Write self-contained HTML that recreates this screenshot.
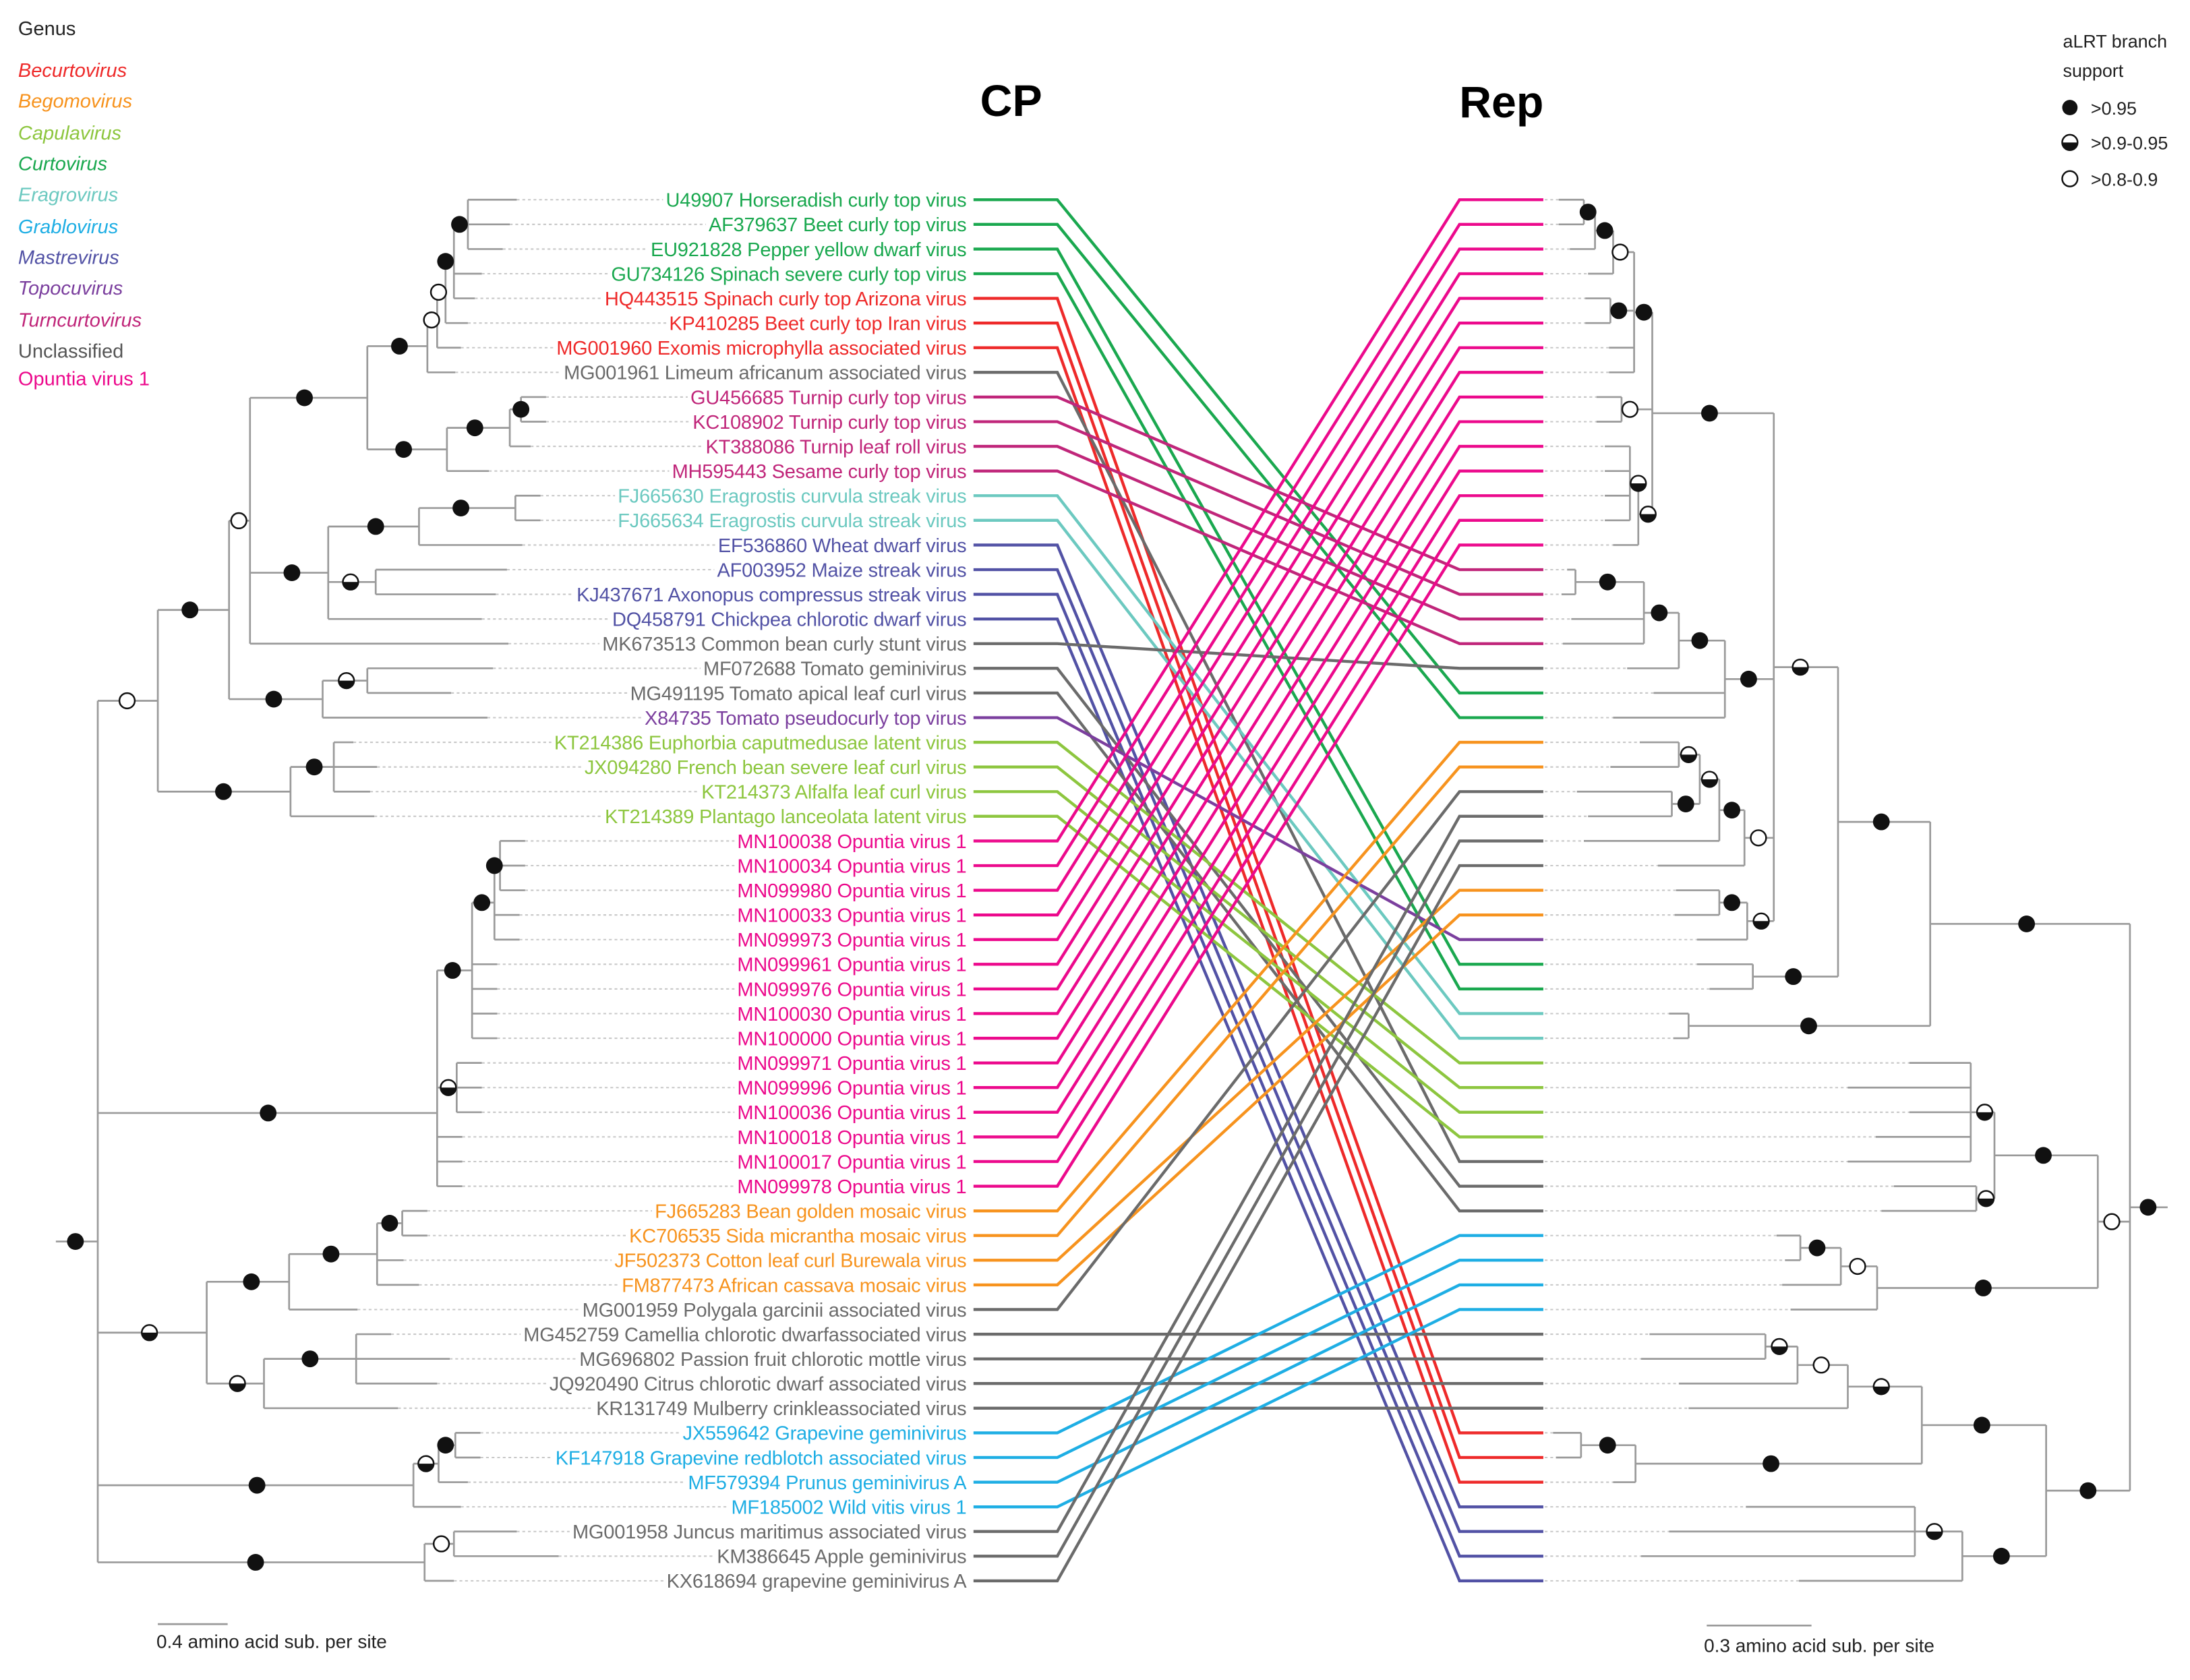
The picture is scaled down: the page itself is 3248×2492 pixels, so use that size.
<!DOCTYPE html>
<html><head><meta charset="utf-8"><style>
html,body{margin:0;padding:0;background:#fff}
svg{display:block}
text{font-family:"Liberation Sans",sans-serif}
</style></head><body>
<svg id="chart" width="3248" height="2492" viewBox="0 0 1568 1203" xmlns="http://www.w3.org/2000/svg">
<g font-size="14">
<text x="13" y="25" fill="#222">Genus</text>
<text x="13" y="55" fill="#ee2a2a" font-style="italic">Becurtovirus</text>
<text x="13" y="77" fill="#f7931e" font-style="italic">Begomovirus</text>
<text x="13" y="100" fill="#8dc63f" font-style="italic">Capulavirus</text>
<text x="13" y="122" fill="#1aa84f" font-style="italic">Curtovirus</text>
<text x="13" y="144" fill="#6cc9c0" font-style="italic">Eragrovirus</text>
<text x="13" y="167" fill="#1eaee4" font-style="italic">Grablovirus</text>
<text x="13" y="189" fill="#5252a5" font-style="italic">Mastrevirus</text>
<text x="13" y="211" fill="#7b3f9e" font-style="italic">Topocuvirus</text>
<text x="13" y="234" fill="#c0267a" font-style="italic">Turncurtovirus</text>
<text x="13" y="256" fill="#555">Unclassified</text>
<text x="13" y="276" fill="#ec098c">Opuntia virus 1</text>
</g>
<text x="724" y="83" font-size="32" font-weight="bold" text-anchor="middle">CP</text>
<text x="1075" y="84" font-size="32" font-weight="bold" text-anchor="middle">Rep</text>
<g font-size="13" fill="#222">
<text x="1477" y="34">aLRT branch</text>
<text x="1477" y="55">support</text>
<circle cx="1482" cy="77" r="5.5" fill="#111"/>
<text x="1497" y="82">&gt;0.95</text>
<circle cx="1482" cy="102" r="5.5" fill="#fff" stroke="#111" stroke-width="1.2"/>
<path d="M1476.5 102 A5.5 5.5 0 0 0 1487.5 102 Z" fill="#111"/>
<text x="1497" y="107">&gt;0.9-0.95</text>
<circle cx="1482" cy="128" r="5.5" fill="#fff" stroke="#111" stroke-width="1.2"/>
<text x="1497" y="133">&gt;0.8-0.9</text>
</g>
<g>
<line x1="113" y1="1163" x2="163" y2="1163" stroke="#999" stroke-width="1.3"/>
<text x="112" y="1180" font-size="13.5" fill="#222">0.4 amino acid sub. per site</text>
</g>
<g>
<line x1="1222" y1="1164" x2="1297" y2="1164" stroke="#999" stroke-width="1.3"/>
<text x="1220" y="1183" font-size="13.5" fill="#222">0.3 amino acid sub. per site</text>
</g>
<g id="trees"></g>
<g id="conns"></g>
<g id="labels"></g>
<g id="dots"></g>
</svg>
<script>
const labels = ["U49907 Horseradish curly top virus","AF379637 Beet curly top virus","EU921828 Pepper yellow dwarf virus","GU734126 Spinach severe curly top virus","HQ443515 Spinach curly top Arizona virus","KP410285 Beet curly top Iran virus","MG001960 Exomis microphylla associated virus","MG001961 Limeum africanum associated virus","GU456685 Turnip curly top virus","KC108902 Turnip curly top virus","KT388086 Turnip leaf roll virus","MH595443 Sesame curly top virus","FJ665630 Eragrostis curvula streak virus","FJ665634 Eragrostis curvula streak virus","EF536860 Wheat dwarf virus","AF003952 Maize streak virus","KJ437671 Axonopus compressus streak virus","DQ458791 Chickpea chlorotic dwarf virus","MK673513 Common bean curly stunt virus","MF072688 Tomato geminivirus","MG491195 Tomato apical leaf curl virus","X84735 Tomato pseudocurly top virus","KT214386 Euphorbia caputmedusae latent virus","JX094280 French bean severe leaf curl virus","KT214373 Alfalfa leaf curl virus","KT214389 Plantago lanceolata latent virus","MN100038 Opuntia virus 1","MN100034 Opuntia virus 1","MN099980 Opuntia virus 1","MN100033 Opuntia virus 1","MN099973 Opuntia virus 1","MN099961 Opuntia virus 1","MN099976 Opuntia virus 1","MN100030 Opuntia virus 1","MN100000 Opuntia virus 1","MN099971 Opuntia virus 1","MN099996 Opuntia virus 1","MN100036 Opuntia virus 1","MN100018 Opuntia virus 1","MN100017 Opuntia virus 1","MN099978 Opuntia virus 1","FJ665283 Bean golden mosaic virus","KC706535 Sida micrantha mosaic virus","JF502373 Cotton leaf curl Burewala virus","FM877473 African cassava mosaic virus","MG001959 Polygala garcinii associated virus","MG452759 Camellia chlorotic dwarfassociated virus","MG696802 Passion fruit chlorotic mottle virus","JQ920490 Citrus chlorotic dwarf associated virus","KR131749 Mulberry crinkleassociated virus","JX559642 Grapevine geminivirus","KF147918 Grapevine redblotch associated virus","MF579394 Prunus geminivirus A","MF185002 Wild vitis virus 1","MG001958 Juncus maritimus associated virus","KM386645 Apple geminivirus","KX618694 grapevine geminivirus A"];
const genus = ["cu","cu","cu","cu","be","be","be","un","tu","tu","tu","tu","er","er","ma","ma","ma","ma","un","un","un","to","ca","ca","ca","ca","op","op","op","op","op","op","op","op","op","op","op","op","op","op","op","bg","bg","bg","bg","un","un","un","un","un","gr","gr","gr","gr","un","un","un"];
const rightPos = [21,22,32,33,51,52,53,40,16,17,18,19,34,35,54,55,56,57,20,41,42,31,36,37,38,39,1,2,3,4,5,6,7,8,9,10,11,12,13,14,15,23,24,29,30,25,47,48,49,50,43,44,45,46,26,27,28];
const colors = {be:"#ee2a2a",bg:"#f7931e",ca:"#8dc63f",cu:"#1aa84f",er:"#6cc9c0",gr:"#1eaee4",ma:"#5252a5",to:"#7b3f9e",tu:"#c0267a",un:"#6b6b6b",op:"#ec098c"};

const NS="http://www.w3.org/2000/svg";
const Y0=143, DY=(1132-143)/56;
function rowY(i){return Y0+(i-1)*DY;}
function N(x,d,s,c,yf){return {x:x,d:d,s:s,c:c,yFix:yf};}
function mk(tag,attrs,parent){const e=document.createElementNS(NS,tag);for(const k in attrs)e.setAttribute(k,attrs[k]);parent.appendChild(e);return e;}

const leftTree = N(70,54,'f',[
  N(113,91,'o',[
    N(164,136,'f',[
      N(179,171,'o',[
        N(263,218,'f',[
          N(306,286,'f',[ N(313,309,'o',[ N(319,314,'o',[ N(325,319,'f',[ N(335,329,'f',[1,2,3]),4,5]),6]),7]),8]),
          N(320,289,'f',[ N(365,340,'f',[ N(373,373,'f',[9,10]),11]),12])
        ]),
        N(235,209,'f',[
          N(300,269,'f',[ N(369,330,'f',[13,14]),15]),
          N(269,251,'h',[16,17]),
          18
        ]),
        19
      ]),
      N(231,196,'f',[ N(263,248,'h',[20,21]),22])
    ]),
    N(208,160,'f',[ N(239,225,'f',[23,24,25]),26])
  ]),
  N(313,192,'f',[ N(338,324,'f',[ N(354,345,'f',[ N(358,354,'f',[27,28,29]),30,31]),32,33,34,35]), N(327,321,'h',[36,37,38]),39,40,41],797),
  N(148,107,'h',[
    N(207,180,'f',[ N(270,237,'f',[ N(288,279,'f',[42,43]),44,45]),46]),
    N(189,170,'h',[ N(255,222,'f',[47,48,49]),50])
  ]),
  N(296,184,'f',[ N(314,305,'h',[ N(326,319,'f',[51,52]),53]),54]),
  N(304,183,'f',[ N(325,316,'o',[55,56]),57])
],889);
const leftTip = {19:364,18:345,15:374,16:363,17:355,20:353,21:323,22:349,12:350,8:326,26:268,23:253,24:270,25:265,46:256,47:280,48:322,49:313,50:285,44:289,45:300,55:370,56:400,57:325,53:335,54:330,7:330,6:335,5:340,4:345,11:380,1:370,2:365,3:360};

const rightTree = N(1525,1538,'f',[
  N(1382,1451,'f',[
    N(1316,1347,'f',[
      N(1270,1289,'h',[
        N(1183,1224,'f',[
          N(1170,1177,'f',[ N(1155,1160,'o',[ N(1142,1149,'f',[ N(1134,1137,'f',[1,2]),3]),4]), N(1153,1159,'f',[5,6]),7,8]),
          N(1161,1167,'o',[9,10]),
          N(1173,1180,'h',[ N(1167,1173,'h',[11,12,13,14]),15])
        ]),
        N(1235,1252,'f',[ N(1202,1217,'f',[ N(1177,1188,'f',[ N(1128,1151,'f',[16,17]),18,19]),20]),21,22]),
        N(1249,1259,'o',[ N(1231,1240,'f',[ N(1217,1224,'h',[ N(1202,1209,'h',[23,24]), N(1197,1207,'f',[25,26])]),27]),28]),
        N(1251,1261,'h',[ N(1231,1240,'f',[29,30]),31])
      ]),
      N(1255,1284,'f',[32,33])
    ]),
    N(1209,1295,'f',[34,35])
  ]),
  N(1502,1512,'o',[
    N(1428,1463,'f',[ N(1411,1421,'h',[36,37,38,39,40]), N(1415,1422,'h',[41,42])]),
    N(1344,1420,'f',[ N(1318,1330,'o',[ N(1289,1301,'f',[43,44]),45]),46])
  ]),
  N(1465,1495,'f',[
    N(1376,1419,'f',[ N(1323,1347,'h',[ N(1287,1304,'o',[ N(1264,1274,'h',[47,48]),49]),50]), N(1171,1268,'f',[ N(1132,1151,'f',[51,52]),53])]),
    N(1405,1433,'f',[ N(1371,1385,'h',[54,55,56]),57])
  ])
]);
const rightTip = {36:1367,37:1323,38:1367,39:1343,40:1323,41:1356,42:1347,43:1272,44:1278,45:1276,46:1282,47:1181,48:1175,49:1202,50:1209,51:1112,52:1114,53:1155,54:1250,55:1195,56:1175,57:1288,20:1165,21:1184,22:1155,23:1174,24:1153,25:1129,26:1137,27:1134,28:1187,29:1200,30:1199,31:1215,32:1215,33:1224,34:1195,35:1198,18:1125,19:1119,16:1122,17:1118};

const treesG=document.getElementById('trees');
const dotsG=document.getElementById('dots');
function layout(n){ if(typeof n==='number') return rowY(n); const ys=n.c.map(layout); n.y=(n.yFix!==undefined)?n.yFix:(ys[0]+ys[ys.length-1])/2; return n.y; }
function drawDot(x,y,s,side){
  const g=mk('g',{},dotsG);
  
  
  if(s==='f'){mk('circle',{cx:x,cy:y,r:6,fill:'#111'},g);}
  else{mk('circle',{cx:x,cy:y,r:5.5,fill:'#fff',stroke:'#111','stroke-width':1.2},g);
    if(s==='h') mk('path',{d:`M${x-5.5} ${y} A5.5 5.5 0 0 0 ${x+5.5} ${y} Z`,fill:'#111'},g);}
}
function drawTree(n,side,tipMap,dir){
  const g=mk('g',{},treesG);
  
  
  function rec(n){
    const ys=n.c.map(c=>typeof c==='number'?rowY(c):c.y);
    mk('line',{x1:n.x,y1:ys[0],x2:n.x,y2:ys[ys.length-1],stroke:'#9a9a9a','stroke-width':1.3},g);
    n.c.forEach((c,k)=>{
      const y=ys[k];
      let ex;
      if(typeof c==='number'){
        ex = tipMap[c]!==undefined?tipMap[c]:n.x+dir*18;
        const l=mk('line',{x1:n.x,y1:y,x2:ex,y2:y,stroke:'#9a9a9a','stroke-width':1.3},g);
        
        const lead = side==='left'? {x1:ex,x2:lblStart[c]-2} : {x1:1106,x2:ex};
        if(lead.x2>lead.x1) mk('line',{x1:lead.x1,y1:y,x2:lead.x2,y2:y,stroke:'#c8c8c8','stroke-width':1,'stroke-dasharray':'2,2'},g);
      } else {
        mk('line',{x1:n.x,y1:y,x2:c.x,y2:y,stroke:'#9a9a9a','stroke-width':1.3},g);
        rec(c);
      }
    });
    if(n.s) drawDot(n.d,n.y,n.s,side);
  }
  rec(n);
}
const labG=document.getElementById('labels');
const lblStart={};
labels.forEach((t,i)=>{
  const el=mk('text',{x:692,y:rowY(i+1)+5,'text-anchor':'end','font-size':14,'letter-spacing':'-0.1',fill:colors[genus[i]]},labG);
  
  
  el.textContent=t;
  let w=0; try{w=el.getComputedTextLength();}catch(e){w=t.length*6.4;}
  lblStart[i+1]=692-w;
});
layout(leftTree); layout(rightTree);
drawTree(leftTree,'left',leftTip,1);
mk('line',{x1:40,y1:leftTree.y,x2:70,y2:leftTree.y,stroke:'#9a9a9a','stroke-width':1.3},treesG);
drawTree(rightTree,'right',rightTip,-1);
mk('line',{x1:1525,y1:rightTree.y,x2:1552,y2:rightTree.y,stroke:'#9a9a9a','stroke-width':1.3},treesG);
const cG=document.getElementById('conns');
rightPos.forEach((r,i)=>{
  const yl=rowY(i+1), yr=rowY(r);
  const p=mk('polyline',{points:`697,${yl} 757,${yl} 1045,${yr} 1105,${yr}`,fill:'none',stroke:colors[genus[i]],'stroke-width':2.1},cG);
  
  
});
</script>
</body></html>
